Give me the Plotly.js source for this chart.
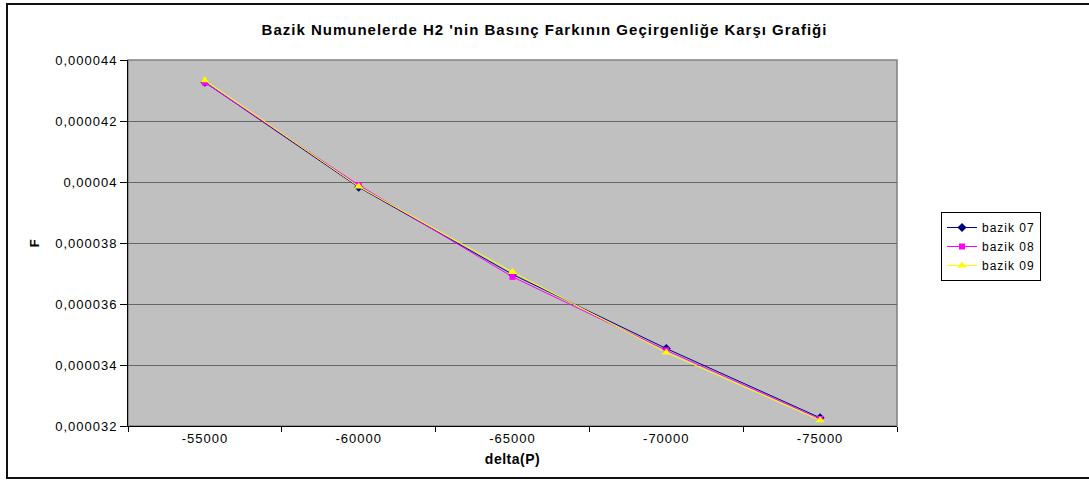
<!DOCTYPE html>
<html>
<head>
<meta charset="utf-8">
<script src="https://cdn.plot.ly/plotly-3.0.1.min.js"></script>
<style>
  html, body { margin: 0; padding: 0; background: #ffffff; }
  #chart { width: 1089px; height: 480px; }
  .gtitle { letter-spacing: 1px; }
  .xtick text, .ytick text { letter-spacing: 1px; }
  .legendtext { letter-spacing: 1px; }
  .xtitle, .ytitle { letter-spacing: 0.5px; }
</style>
</head>
<body>
<div id="chart"></div>
<script>
// ---- data ----
const categories = ["-55000", "-60000", "-65000", "-70000", "-75000"];
const bazik07 = [0.00004327, 0.00003983, 0.00003697, 0.00003454, 0.00003227];
const bazik08 = [0.00004326, 0.00003990, 0.00003689, 0.00003448, 0.00003223];
const bazik09 = [0.00004334, 0.00003985, 0.00003705, 0.00003441, 0.00003219];
const seriesNames = ["bazik 07", "bazik 08", "bazik 09"];
const yTickVals = [0.000032, 0.000034, 0.000036, 0.000038, 0.000040, 0.000042, 0.000044];
const yTickText = ["0,000032", "0,000034", "0,000036", "0,000038", "0,00004", "0,000042", "0,000044"];
const titleText = "Bazik Numunelerde H2 'nin Basınç Farkının Geçirgenliğe Karşı Grafiği";
const xTitle = "delta(P)";
const yTitle = "F";

const FONT = "Liberation Sans, Arial, sans-serif";

function mk(name, y, color, symbol, size) {
  return {
    type: "scatter", mode: "lines+markers", name: name,
    x: categories, y: y,
    line: { color: color, width: 1 },
    marker: { color: color, symbol: symbol, size: size, line: { width: 0 } },
    hoverinfo: "skip"
  };
}

const data = [
  mk(seriesNames[0], bazik07, "#000080", "diamond", 7),
  mk(seriesNames[1], bazik08, "#FF00FF", "square", 6),
  mk(seriesNames[2], bazik09, "#FFFF00", "triangle-up", 8)
];

const layout = {
  width: 1089, height: 480,
  margin: { l: 128, r: 192, t: 60, b: 54, pad: 0 },
  paper_bgcolor: "#ffffff",
  plot_bgcolor: "#C0C0C0",
  font: { family: FONT, size: 12, color: "#000000" },
  title: {
    text: "<b>" + titleText + "</b>",
    font: { family: FONT, size: 15, color: "#000000" },
    x: 0.5, xref: "container", xanchor: "center",
    y: 1 - 30 / 480, yref: "container", yanchor: "middle"
  },
  showlegend: true,
  legend: {
    x: (941 - 128) / 769, xanchor: "left",
    y: (426 - 212) / 366, yanchor: "top",
    bgcolor: "#ffffff", bordercolor: "#000000", borderwidth: 1,
    font: { family: FONT, size: 12, color: "#000000" },
    tracegroupgap: 0, itemwidth: 30
  },
  xaxis: {
    type: "category",
    range: [-0.5, 4.5],
    tickson: "boundaries",
    ticks: "outside", ticklen: 5, tickcolor: "#000000", tickwidth: 1,
    showline: true, linecolor: "#000000", linewidth: 1,
    showgrid: false, zeroline: false,
    tickfont: { family: FONT, size: 13, color: "#000000" },
    title: { text: "<b>" + xTitle + "</b>", font: { family: FONT, size: 14, color: "#000000" }, standoff: 9 },
    fixedrange: true
  },
  yaxis: {
    range: [0.000032, 0.000044],
    tickmode: "array", tickvals: yTickVals, ticktext: yTickText,
    ticks: "outside", ticklen: 7, tickcolor: "#000000", tickwidth: 1,
    showline: true, linecolor: "#000000", linewidth: 1,
    showgrid: true, gridcolor: "#666666", gridwidth: 1,
    zeroline: false,
    tickfont: { family: FONT, size: 13, color: "#000000" },
    title: { text: "<b>" + yTitle + "</b>", font: { family: FONT, size: 13, color: "#000000" }, standoff: 12 },
    fixedrange: true
  },
  shapes: [
    { type: "rect", xref: "paper", yref: "paper", x0: 0, x1: 1, y0: 0, y1: 1,
      line: { color: "#808080", width: 1.5 }, fillcolor: "rgba(0,0,0,0)", layer: "below" },
    { type: "rect", xref: "paper", yref: "paper",
      x0: (7 - 128) / 769, x1: (1100 - 128) / 769,
      y0: (426 - 478) / 366, y1: (426 - 4) / 366,
      line: { color: "#111111", width: 2 }, fillcolor: "rgba(0,0,0,0)" }
  ]
};

Plotly.newPlot("chart", data, layout, { displayModeBar: false, staticPlot: true });
</script>
</body>
</html>
